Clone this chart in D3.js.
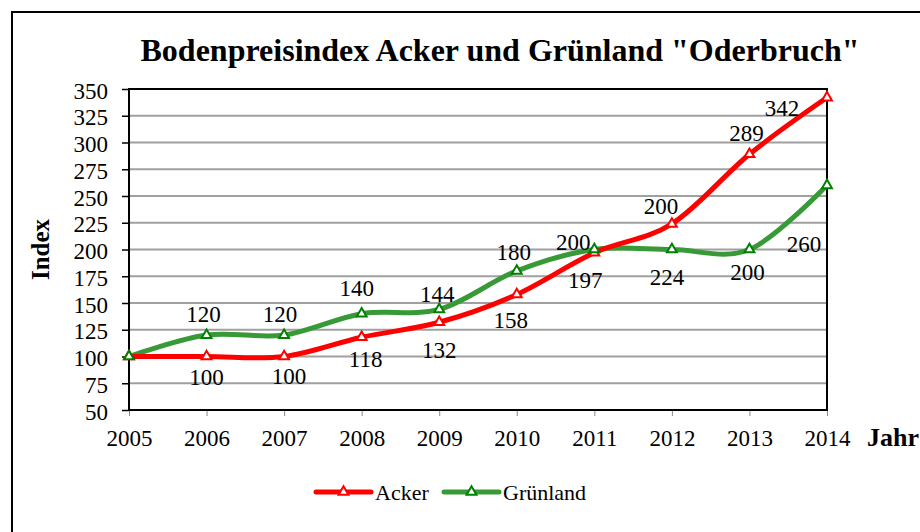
<!DOCTYPE html>
<html>
<head>
<meta charset="utf-8">
<script src="https://cdn.jsdelivr.net/npm/d3@7"></script>
<style>
  body { margin: 0; background: #fff; }
  svg text { font-family: "Liberation Serif", "Times New Roman", serif; }
</style>
</head>
<body>
<svg width="920" height="532"></svg>
<script>
// data
const years = [2005, 2006, 2007, 2008, 2009, 2010, 2011, 2012, 2013, 2014]
const acker = [100, 100, 100, 118, 132, 158, 197, 224, 289, 342]
const gruenland = [100, 120, 120, 140, 144, 180, 200, 200, 200, 260]
const yTicks = [50, 75, 100, 125, 150, 175, 200, 225, 250, 275, 300, 325, 350]

// label placement (dx, dy from the point); null = no label
const ackerLabelPos = [null, [0, 20], [5, 19], [4, 21], [0, 27], [-6, 25], [-9, 27], [-5, 53], [-3, -22], [-45, 10]]
const gruenLabelPos = [null, [-3, -21], [-4, -21], [-5, -26], [-2, -16], [-3, -19], [-21, -8], [-11, -44], [-2, 22], [-23, 58]]

const svg = d3.select('svg')
const plotLeft = 129, plotRight = 827, plotTop = 89, plotBottom = 410
const serif = '"Liberation Serif", "Times New Roman", serif'

const x = d3.scalePoint(years, [plotLeft, plotRight])
const y = d3.scaleLinear([50, 350], [plotBottom, plotTop])

// outer frame
svg.append('rect')
  .attr('x', 12).attr('y', 12)
  .attr('width', 940).attr('height', 560)
  .attr('fill', 'none').attr('stroke', '#000').attr('stroke-width', 2)

// title
svg.append('text')
  .attr('x', 500).attr('y', 61)
  .attr('text-anchor', 'middle')
  .style('font-family', serif)
  .style('font-size', '32px').style('font-weight', 'bold')
  .text('Bodenpreisindex Acker und Grünland "Oderbruch"')

// grid lines
svg.append('g')
  .selectAll('line')
  .data(yTicks.slice(1, -1))
  .enter()
  .append('line')
  .attr('x1', plotLeft).attr('x2', plotRight)
  .attr('y1', d => y(d)).attr('y2', d => y(d))
  .attr('stroke', '#a0a0a0').attr('stroke-width', 2)

// y axis
const yAxis = svg.append('g')
  .attr('transform', `translate(${plotLeft},0)`)
  .call(d3.axisLeft(y).tickValues(yTicks).tickSize(7).tickPadding(14))
yAxis.attr('font-family', null)
yAxis.select('.domain').remove()
yAxis.selectAll('line').attr('stroke', '#000').attr('stroke-width', 1.5)
yAxis.selectAll('text').style('font-size', '23px').style('font-family', serif).attr('fill', '#000').attr('dy', '0.4em')

// x axis
const xAxis = svg.append('g')
  .attr('transform', `translate(0,${plotBottom})`)
  .call(d3.axisBottom(x).tickSize(6).tickPadding(14))
xAxis.attr('font-family', null)
xAxis.select('.domain').remove()
xAxis.selectAll('line').attr('stroke', '#888').attr('stroke-width', 1)
xAxis.selectAll('text').style('font-size', '23px').style('font-family', serif).attr('fill', '#000')

// plot border
svg.append('rect')
  .attr('x', plotLeft).attr('y', plotTop)
  .attr('width', plotRight - plotLeft).attr('height', plotBottom - plotTop)
  .attr('fill', 'none').attr('stroke', '#000').attr('stroke-width', 2)

// axis titles
svg.append('text')
  .attr('transform', `translate(49,${(plotTop + plotBottom) / 2}) rotate(-90)`)
  .attr('text-anchor', 'middle')
  .style('font-family', serif)
  .style('font-size', '25px').style('font-weight', 'bold')
  .text('Index')

svg.append('text')
  .attr('x', 867).attr('y', 446)
  .style('font-family', serif)
  .style('font-size', '26px').style('font-weight', 'bold')
  .text('Jahr')

// series
const series = [
  { name: 'Acker', values: acker, line: '#ff0000', marker: '#ff0000', labels: ackerLabelPos },
  { name: 'Grünland', values: gruenland, line: '#379a37', marker: '#008000', labels: gruenLabelPos }
]

const line = d3.line()
  .x((d, i) => x(years[i]))
  .y(d => y(d))
  .curve(d3.curveCatmullRom.alpha(0))

const tri = d3.symbol().type(d3.symbolTriangle).size(42)

// green first so red sits on top where they cross
series.slice().reverse().forEach(s => {
  svg.append('path')
    .attr('d', line(s.values))
    .attr('fill', 'none')
    .attr('stroke', s.line)
    .attr('stroke-width', 5)
    .attr('stroke-linejoin', 'round')
    .attr('stroke-linecap', 'round')
})

series.forEach(s => {
  svg.append('g')
    .selectAll('path')
    .data(s.values)
    .enter()
    .append('path')
    .attr('d', tri)
    .attr('transform', (d, i) => `translate(${x(years[i])},${y(d)})`)
    .attr('fill', '#fff')
    .attr('stroke', s.marker)
    .attr('stroke-width', 2)
})

// data labels
series.forEach(s => {
  svg.append('g')
    .selectAll('text')
    .data(s.values.map((v, i) => ({ v, i, pos: s.labels[i] })).filter(d => d.pos))
    .enter()
    .append('text')
    .attr('x', d => x(years[d.i]) + d.pos[0])
    .attr('y', d => y(d.v) + d.pos[1])
    .attr('dy', '0.36em')
    .attr('text-anchor', 'middle')
    .style('font-family', serif)
    .style('font-size', '23px')
    .text(d => d.v)
})

// legend
const legendItems = [
  { s: series[0], x0: 316, x1: 371, tx: 375 },
  { s: series[1], x0: 444, x1: 499, tx: 503 }
]
const legend = svg.append('g')
legendItems.forEach(item => {
  legend.append('line')
    .attr('x1', item.x0).attr('x2', item.x1)
    .attr('y1', 492).attr('y2', 492)
    .attr('stroke', item.s.line).attr('stroke-width', 5)
    .attr('stroke-linecap', 'round')
  legend.append('path')
    .attr('d', tri)
    .attr('transform', `translate(${(item.x0 + item.x1) / 2},492)`)
    .attr('fill', '#fff').attr('stroke', item.s.marker).attr('stroke-width', 2)
  legend.append('text')
    .attr('x', item.tx).attr('y', 492).attr('dy', '0.35em')
    .style('font-family', serif)
    .style('font-size', '22px')
    .text(item.s.name)
})
</script>
</body>
</html>
